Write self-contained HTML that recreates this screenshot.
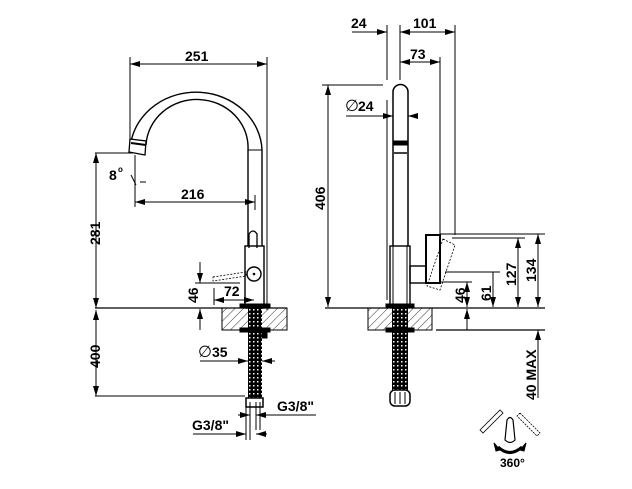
<!DOCTYPE html>
<html><head><meta charset="utf-8"><style>
html,body{margin:0;padding:0;background:#fff;width:632px;height:489px;overflow:hidden}
text{font-family:"Liberation Sans",Arial,sans-serif;font-weight:bold;font-size:14px;fill:#000}
</style></head><body>
<svg width="632" height="489" viewBox="0 0 632 489" xmlns="http://www.w3.org/2000/svg">
<defs>
<marker id="a" viewBox="0 0 10 6" refX="10" refY="3" markerWidth="10" markerHeight="6" orient="auto-start-reverse" markerUnits="userSpaceOnUse"><path d="M0,0L10,3L0,6z" fill="#000"/></marker>
<pattern id="h" width="6" height="6" patternUnits="userSpaceOnUse" patternTransform="rotate(45)"><line x1="0" y1="0" x2="0" y2="6" stroke="#000" stroke-width="0.8"/></pattern>
<pattern id="d" width="4" height="4" patternUnits="userSpaceOnUse"><rect width="4" height="4" fill="#000"/><rect x="1" y="1" width="1.5" height="1.5" fill="#fff"/></pattern>
</defs>
<g stroke="#000" stroke-width="1" fill="none">
<!-- LEFT VIEW -->
<line x1="130" y1="57" x2="130" y2="140"/>
<line x1="267" y1="57" x2="267" y2="310"/>
<line x1="130" y1="64" x2="267" y2="64" marker-start="url(#a)" marker-end="url(#a)"/>
<path d="M131,142 A66,60 0 0 1 262,150" stroke-width="1.4"/>
<path d="M146,145 A51,48 0 0 1 248,150" stroke-width="1.4"/>
<line x1="248" y1="150" x2="262" y2="150"/>
<line x1="248" y1="150" x2="248" y2="246" stroke-width="1.4"/>
<line x1="262" y1="150" x2="262" y2="246" stroke-width="1.4"/>
<path d="M130,139 L146,141 L145,155 L129,152z" fill="#fff" stroke-width="1.3"/>
<line x1="131" y1="143" x2="146" y2="145" stroke-width="2"/>
<line x1="95" y1="153" x2="133" y2="153"/>
<line x1="96" y1="153" x2="96" y2="308" marker-start="url(#a)" marker-end="url(#a)"/>
<line x1="135" y1="155" x2="135" y2="207"/>
<line x1="131" y1="175" x2="136" y2="185"/>
<line x1="140" y1="182" x2="146" y2="182"/>
<line x1="135" y1="202" x2="255" y2="202" marker-start="url(#a)" marker-end="url(#a)"/>
<line x1="255" y1="195" x2="255" y2="210"/>
<path d="M249,248 L249,234 Q253,228 257,234 L257,248" stroke-width="1.3"/>
<rect x="245" y="246" width="19" height="62" stroke-width="1.4"/>
<circle cx="254" cy="274" r="7" stroke-width="1.4" fill="#fff"/>
<circle cx="254" cy="274" r="0.8" fill="#000"/>
<path d="M213,277 L246,272 L246,276 L213,281z" stroke-dasharray="2,1.5" stroke-width="0.8"/>
<line x1="195" y1="283" x2="240" y2="283"/>
<line x1="200" y1="262" x2="200" y2="283" marker-end="url(#a)"/>
<line x1="200" y1="330" x2="200" y2="309" marker-end="url(#a)"/>
<line x1="214" y1="288" x2="214" y2="305"/>
<line x1="214" y1="300" x2="254" y2="300" marker-start="url(#a)" marker-end="url(#a)"/>
<line x1="95" y1="308" x2="287" y2="308" stroke-width="1.2"/>
<rect x="222" y="308" width="65" height="22" fill="url(#h)"/>
<rect x="248" y="306" width="14" height="92" fill="url(#d)" stroke="none"/>
<rect x="240" y="304" width="30" height="4" fill="#000"/>
<rect x="240" y="328" width="30" height="4" fill="#000"/>
<rect x="262" y="330" width="5" height="8" fill="#000"/>
<rect x="246" y="398" width="17" height="9" fill="#fff" stroke-width="1.5"/>
<line x1="95" y1="396" x2="245" y2="396"/>
<line x1="96" y1="310" x2="96" y2="396" marker-start="url(#a)" marker-end="url(#a)"/>
<line x1="200" y1="361" x2="248" y2="361" marker-end="url(#a)"/>
<line x1="275" y1="361" x2="262" y2="361" marker-end="url(#a)"/>
<line x1="246" y1="402" x2="246" y2="440"/><line x1="250" y1="402" x2="250" y2="440"/>
<line x1="256" y1="402" x2="256" y2="430"/><line x1="260" y1="402" x2="260" y2="430"/>
<line x1="238" y1="415" x2="250" y2="415" marker-end="url(#a)"/>
<line x1="316" y1="415" x2="256" y2="415" marker-end="url(#a)"/>
<line x1="193" y1="434" x2="246" y2="434" marker-end="url(#a)"/>
<line x1="267" y1="434" x2="256" y2="434" marker-end="url(#a)"/>

<!-- RIGHT VIEW -->
<line x1="387" y1="25" x2="387" y2="80"/>
<line x1="387" y1="100" x2="387" y2="300"/>
<line x1="400" y1="25" x2="400" y2="80"/>
<line x1="455" y1="25" x2="455" y2="235"/>
<line x1="440" y1="57" x2="440" y2="235"/>
<line x1="352" y1="32" x2="387" y2="32" marker-end="url(#a)"/>
<line x1="400" y1="32" x2="455" y2="32" marker-start="url(#a)" marker-end="url(#a)"/>
<line x1="400" y1="62" x2="440" y2="62" marker-start="url(#a)" marker-end="url(#a)"/>
<path d="M393,246 L393,92 A7.5,7.5 0 0 1 408,92 L408,246" stroke-width="1.5"/>
<rect x="394" y="141" width="13" height="4" fill="#000"/>
<line x1="394" y1="153" x2="407" y2="153" stroke-width="1.5"/>
<rect x="390" y="246" width="20" height="61" stroke-width="1.4"/>
<line x1="393" y1="246" x2="393" y2="307"/>
<line x1="407" y1="246" x2="407" y2="307"/>
<rect x="410" y="266" width="16" height="17" stroke-width="1.4"/>
<rect x="426" y="235" width="14" height="48" stroke-width="2"/>
<path d="M443,239 L455,245 L440,290 L427,286z" stroke-dasharray="2,1.5" stroke-width="0.8"/>
<line x1="322" y1="85" x2="383" y2="85"/>
<line x1="328" y1="85" x2="328" y2="307" marker-start="url(#a)" marker-end="url(#a)"/>
<line x1="346" y1="116" x2="393" y2="116" marker-end="url(#a)"/>
<line x1="418" y1="116" x2="408" y2="116" marker-end="url(#a)"/>
<line x1="440" y1="234" x2="545" y2="234"/>
<line x1="452" y1="238" x2="525" y2="238"/>
<line x1="445" y1="272" x2="500" y2="272"/>
<line x1="440" y1="282" x2="472" y2="282"/>
<line x1="518" y1="238" x2="518" y2="307" marker-start="url(#a)" marker-end="url(#a)"/>
<line x1="538" y1="234" x2="538" y2="307" marker-start="url(#a)" marker-end="url(#a)"/>
<line x1="538" y1="330" x2="538" y2="398" marker-start="url(#a)"/>
<line x1="493" y1="272" x2="493" y2="307" marker-end="url(#a)"/>
<line x1="467" y1="282" x2="467" y2="307" marker-start="url(#a)" marker-end="url(#a)"/>
<line x1="467" y1="330" x2="467" y2="309" marker-end="url(#a)"/>
<line x1="325" y1="308" x2="545" y2="308" stroke-width="1.2"/>
<line x1="436" y1="330" x2="545" y2="330" stroke-width="1.2"/>
<rect x="368" y="308" width="64" height="22" fill="url(#h)"/>
<rect x="392" y="306" width="16" height="92" fill="url(#d)" stroke="none"/>
<rect x="386" y="304" width="28" height="4" fill="#000"/>
<rect x="386" y="328" width="28" height="4" fill="#000"/>
<rect x="390" y="390" width="20" height="16" rx="5" fill="#fff" stroke-width="1.5"/>
<line x1="395" y1="392" x2="395" y2="404"/><line x1="400" y1="392" x2="400" y2="404"/><line x1="405" y1="392" x2="405" y2="404"/>
<path d="M480,430 L500,410 L503,413 L483,433z" fill="#fff" stroke-width="0.8"/>
<path d="M520,413 L540,433 L537,436 L517,416z" fill="#fff" stroke-dasharray="2,1" stroke-width="0.8"/>
<path d="M505,440 L507,420 Q510,415 513,420 L515,440 Q510,445 505,440z" fill="#fff" stroke-width="1.2"/>
<path d="M498,447 Q510,458 522,447" stroke-width="3"/>
<path d="M494,443 L500,450 L496,451z" fill="#000"/>
<path d="M526,443 L520,450 L524,451z" fill="#000"/>
</g>
<text x="185" y="61">251</text>
<text x="181" y="199">216</text>
<text x="109" y="180">8</text><text x="118" y="172" style="font-size:8px">o</text>
<text transform="translate(100,245) rotate(-90)">281</text>
<text transform="translate(100,368) rotate(-90)">400</text>
<text transform="translate(198,303) rotate(-90)">46</text>
<text x="224" y="296">72</text>
<text x="198" y="357" style="font-weight:normal;font-size:16px">∅</text><text x="212" y="357">35</text>
<text x="277" y="411">G3/8"</text>
<text x="192" y="430">G3/8"</text>
<text x="351" y="28">24</text>
<text x="413" y="28">101</text>
<text x="410" y="59">73</text>
<text transform="translate(325,210) rotate(-90)">406</text>
<text x="345" y="111" style="font-weight:normal;font-size:16px">∅</text><text x="358" y="111">24</text>
<text transform="translate(465,303) rotate(-90)">46</text>
<text transform="translate(491,301) rotate(-90)">61</text>
<text transform="translate(516,286) rotate(-90)">127</text>
<text transform="translate(536,282) rotate(-90)">134</text>
<text transform="translate(536,400) rotate(-90)">40 MAX</text>
<text x="500" y="467" style="font-size:12px">360°</text>
</svg>
</body></html>
